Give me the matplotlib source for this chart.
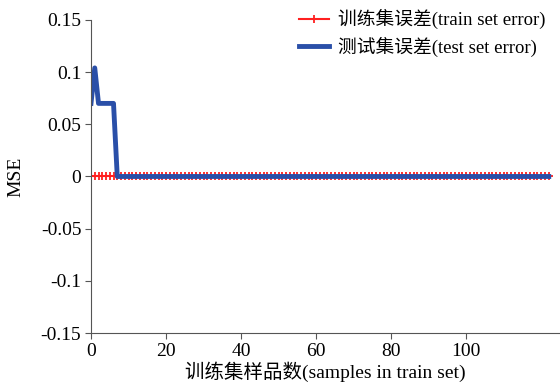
import numpy as np
import matplotlib
matplotlib.use("Agg")
import matplotlib.pyplot as plt

plt.rcParams['font.family'] = ['Liberation Serif', 'Noto Sans CJK SC']
plt.rcParams['axes.unicode_minus'] = False

# data
n_samples = 123
x = np.arange(n_samples)
train_err = [0.0] * n_samples
test_err = [0.07, 0.104, 0.07, 0.07, 0.07, 0.07, 0.07] + [0.0] * (n_samples - 7)

fig = plt.figure(figsize=(5.6, 3.82), dpi=100)
ax = fig.add_axes([0.1625, 0.128, 0.8375, 0.82])

ax.plot(x, train_err, color='#ff2020', lw=1.5, marker='+', ms=6, mew=1.3,
        label='训练集误差(train set error)')
ax.plot(x, test_err, color='#2a4fa8', lw=3.5, label='测试集误差(test set error)')

ax.set_xlim(0, 125)
ax.set_ylim(-0.15, 0.15)
ax.set_xticks([0, 20, 40, 60, 80, 100])
ax.set_yticks([-0.15, -0.1, -0.05, 0, 0.05, 0.1, 0.15])
ax.set_yticklabels(['-0.15', '-0.1', '-0.05', '0', '0.05', '0.1', '0.15'])
ax.tick_params(labelsize=14, direction='out', length=4, color='#555555', pad=3)

for s in ['top', 'right']:
    ax.spines[s].set_visible(False)
for s in ['left', 'bottom']:
    ax.spines[s].set_color('#555555')

ax.set_xlabel('训练集样品数(samples in train set)', fontsize=14, labelpad=1)
ax.set_ylabel('MSE', fontsize=14, labelpad=12)

ax.legend(loc='upper right', bbox_to_anchor=(0.99, 1.0), bbox_transform=fig.transFigure,
          frameon=False, fontsize=13.5, handlelength=1.6, handletextpad=0.45,
          borderaxespad=0.1, labelspacing=0.4)

fig.savefig('out.png', dpi=100)
